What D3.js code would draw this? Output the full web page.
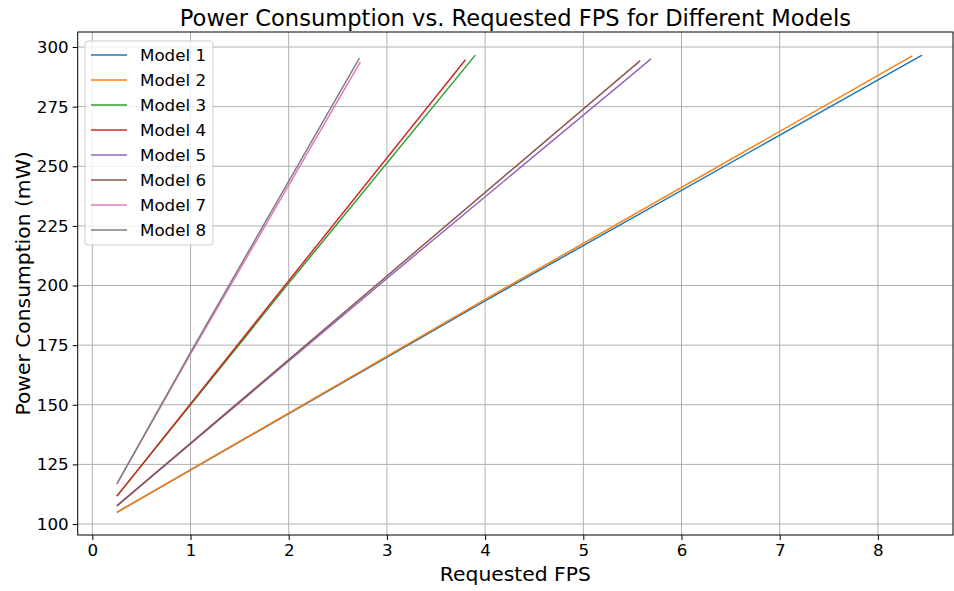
<!DOCTYPE html>
<html>
<head>
<meta charset="utf-8">
<script src="https://cdn.jsdelivr.net/npm/d3@7"></script>
<style>
  body { margin: 0; background: #fff; }
  svg { font-family: "DejaVu Sans", sans-serif; }
</style>
</head>
<body>
<svg id="chart" width="954" height="591"></svg>
<script>
// values: [fps, mW]
const modelNames = ["Model 1", "Model 2", "Model 3", "Model 4", "Model 5", "Model 6", "Model 7", "Model 8"];
const model1 = [[0.25, 104.9], [4, 193.6], [8.45, 296.6]];
const model2 = [[0.25, 104.9], [4, 194.2], [8.35, 296.3]];
const model3 = [[0.25, 111.7], [2, 201.0], [3.90, 296.6]];
const model4 = [[0.25, 111.7], [2, 202.0], [3.80, 294.7]];
const model5 = [[0.25, 107.6], [3, 203.0], [5.69, 295.0]];
const model6 = [[0.25, 107.6], [3, 204.0], [5.58, 294.3]];
const model7 = [[0.25, 116.8], [1, 171.2], [2.73, 293.8]];
const model8 = [[0.25, 116.8], [1, 172.0], [2.72, 295.3]];
const xTicks = [0, 1, 2, 3, 4, 5, 6, 7, 8];
const yTicks = [100, 125, 150, 175, 200, 225, 250, 275, 300];

const allSeries = [model1, model2, model3, model4, model5, model6, model7, model8];
const colors = ["#1f77b4", "#ff7f0e", "#2ca02c", "#d62728", "#9467bd", "#8c564b", "#e377c2", "#7f7f7f"];

const plotLeft = 77.7, plotRight = 953, plotTop = 32, plotBottom = 535;

let svg = d3.select("#chart");

let xScale = d3.scaleLinear().domain([-0.149, 8.765]).range([plotLeft, plotRight]);
let yScale = d3.scaleLinear().domain([95.4, 306.3]).range([plotBottom, plotTop]);

// grid
svg.append("g")
    .selectAll("line")
    .data(xTicks)
    .enter()
    .append("line")
    .attr("x1", d => xScale(d)).attr("x2", d => xScale(d))
    .attr("y1", plotTop).attr("y2", plotBottom)
    .attr("stroke", "#b0b0b0").attr("stroke-width", 1);

svg.append("g")
    .selectAll("line")
    .data(yTicks)
    .enter()
    .append("line")
    .attr("x1", plotLeft).attr("x2", plotRight)
    .attr("y1", d => yScale(d)).attr("y2", d => yScale(d))
    .attr("stroke", "#b0b0b0").attr("stroke-width", 1);

// lines
let line = d3.line()
    .x(d => xScale(d[0]))
    .y(d => yScale(d[1]));

svg.append("g")
    .selectAll("path")
    .data(allSeries)
    .enter()
    .append("path")
    .attr("d", line)
    .attr("fill", "none")
    .attr("stroke", (d, i) => colors[i])
    .attr("stroke-width", 1.5);

// axes
let xAxis = d3.axisBottom(xScale).tickValues(xTicks).tickSize(5).tickPadding(4);
let yAxis = d3.axisLeft(yScale).tickValues(yTicks).tickSize(5).tickPadding(4);

let gx = svg.append("g").attr("transform", `translate(0,${plotBottom})`).call(xAxis);
let gy = svg.append("g").attr("transform", `translate(${plotLeft},0)`).call(yAxis);

[gx, gy].forEach(g => {
    g.select(".domain").remove();
    g.selectAll(".tick line").attr("stroke", "#000").attr("stroke-width", 1);
    g.selectAll(".tick text")
        .attr("fill", "#000")
        .style("font-size", "16.7px")
        .style("font-family", "DejaVu Sans");
});

// spines
svg.append("rect")
    .attr("x", plotLeft).attr("y", plotTop)
    .attr("width", plotRight - plotLeft).attr("height", plotBottom - plotTop)
    .attr("fill", "none").attr("stroke", "#000").attr("stroke-width", 1);

// title and labels
svg.append("text")
    .attr("x", (plotLeft + plotRight) / 2).attr("y", 26)
    .attr("text-anchor", "middle")
    .style("font-size", "22.6px")
    .text("Power Consumption vs. Requested FPS for Different Models");

svg.append("text")
    .attr("x", (plotLeft + plotRight) / 2).attr("y", 581)
    .attr("text-anchor", "middle")
    .style("font-size", "20.3px")
    .text("Requested FPS");

svg.append("text")
    .attr("transform", `translate(23,${(plotTop + plotBottom) / 2}) rotate(-90)`)
    .attr("text-anchor", "middle")
    .attr("dominant-baseline", "central")
    .style("font-size", "20.3px")
    .text("Power Consumption (mW)");

// legend
let legend = svg.append("g");
legend.append("rect")
    .attr("x", 85).attr("y", 41)
    .attr("width", 128).attr("height", 204)
    .attr("rx", 3)
    .attr("fill", "#fff").attr("fill-opacity", 0.8)
    .attr("stroke", "#cccccc").attr("stroke-width", 1);

let rows = legend.selectAll("g.row")
    .data(modelNames)
    .enter()
    .append("g")
    .attr("class", "row")
    .attr("transform", (d, i) => `translate(0,${55 + i * 25})`);

rows.append("line")
    .attr("x1", 91).attr("x2", 127)
    .attr("stroke", (d, i) => colors[i])
    .attr("stroke-width", 1.5);

rows.append("text")
    .attr("x", 140).attr("y", 0)
    .attr("dominant-baseline", "central")
    .style("font-size", "16.7px")
    .text(d => d);
</script>
</body>
</html>
